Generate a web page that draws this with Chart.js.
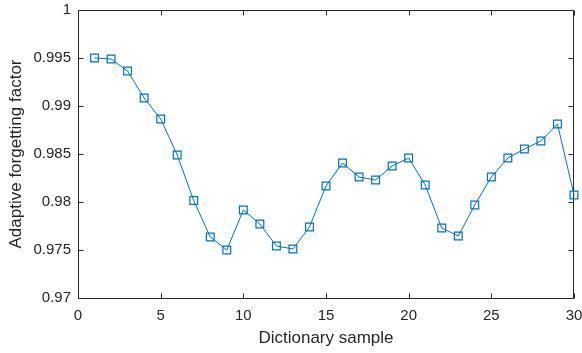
<!DOCTYPE html>
<html>
<head>
<meta charset="utf-8">
<script src="https://cdn.jsdelivr.net/npm/chart.js@4/dist/chart.umd.min.js"></script>
<style>
  html, body { margin: 0; padding: 0; background: #fff; }
  canvas { display: block; }
</style>
</head>
<body>
<canvas id="factorChart" width="582" height="353"></canvas>
<script>
const samples = [1, 2, 3, 4, 5, 6, 7, 8, 9, 10, 11, 12, 13, 14, 15,
  16, 17, 18, 19, 20, 21, 22, 23, 24, 25, 26, 27, 28, 29, 30];
const forgetting = [0.9950, 0.9949, 0.99365, 0.99083, 0.98865, 0.98490, 0.98015, 0.97635, 0.97500, 0.97917,
  0.97771, 0.97542, 0.97510, 0.97740, 0.98167, 0.98406, 0.98260, 0.98229, 0.98375, 0.98458,
  0.98177, 0.97729, 0.97646, 0.97969, 0.98260, 0.98458, 0.98552, 0.98635, 0.98813, 0.98073];
const xTicks = [0, 5, 10, 15, 20, 25, 30];
const yTicks = [0.97, 0.975, 0.98, 0.985, 0.99, 0.995, 1];

const AXIS = '#262626';
const LINE = '#0072BD';
const FONT = 'Liberation Sans, Arial, sans-serif';

// box around the plot with inward tick marks on all four sides
const boxPlugin = {
  id: 'boxTicks',
  beforeDatasetsDraw(chart) {
    const { ctx, chartArea: a, scales } = chart;
    const L = Math.round(a.left) + 0.5, R = Math.round(a.right) - 0.5;
    const T = Math.round(a.top) + 0.5, B = Math.round(a.bottom) + 0.5;
    const len = 5;
    ctx.save();
    ctx.strokeStyle = AXIS;
    ctx.lineWidth = 1;
    ctx.beginPath();
    ctx.rect(L, T, R - L, B - T);
    xTicks.forEach(v => {
      const x = Math.round(scales.x.getPixelForValue(v)) + 0.5;
      ctx.moveTo(x, B); ctx.lineTo(x, B - len);
      ctx.moveTo(x, T); ctx.lineTo(x, T + len);
    });
    yTicks.forEach(v => {
      const y = Math.round(scales.y.getPixelForValue(v)) + 0.5;
      ctx.moveTo(L, y); ctx.lineTo(L + len, y);
      ctx.moveTo(R, y); ctx.lineTo(R - len, y);
    });
    ctx.stroke();
    ctx.restore();
  }
};

new Chart(document.getElementById('factorChart'), {
  type: 'scatter',
  data: {
    datasets: [{
      data: samples.map((s, i) => ({ x: s, y: forgetting[i] })),
      showLine: true,
      borderColor: LINE,
      borderWidth: 1,
      backgroundColor: 'rgba(0,0,0,0)',
      pointStyle: 'rect',
      pointRadius: 5.5,
      pointBorderColor: LINE,
      pointBorderWidth: 1.2,
      pointBackgroundColor: 'rgba(0,0,0,0)',
      clip: false
    }]
  },
  options: {
    responsive: false,
    animation: false,
    events: [],
    layout: { padding: { top: 10, right: 8, left: 0, bottom: 0 } },
    plugins: { legend: { display: false }, tooltip: { enabled: false } },
    scales: {
      x: {
        type: 'linear',
        min: 0,
        max: 30,
        afterBuildTicks: s => { s.ticks = xTicks.map(v => ({ value: v })); },
        afterFit: s => { s.height = 55; s.paddingLeft = 0; s.paddingRight = 0; },
        grid: { display: false, drawTicks: false },
        border: { display: false },
        ticks: {
          color: AXIS,
          padding: 9,
          maxRotation: 0,
          font: { family: FONT, size: 15 },
          callback: v => String(v)
        },
        title: {
          display: true,
          text: 'Dictionary sample',
          color: AXIS,
          padding: { top: 0, bottom: 4 },
          font: { family: FONT, size: 17 }
        }
      },
      y: {
        type: 'linear',
        min: 0.97,
        max: 1,
        afterBuildTicks: s => { s.ticks = yTicks.map(v => ({ value: v })); },
        afterFit: s => { s.width = 78; s.paddingTop = 0; s.paddingBottom = 0; },
        grid: { display: false, drawTicks: false },
        border: { display: false },
        ticks: {
          color: AXIS,
          padding: 7,
          font: { family: FONT, size: 15 },
          callback: v => String(+v.toFixed(3))
        },
        title: {
          display: true,
          text: 'Adaptive forgetting factor',
          color: AXIS,
          padding: { top: 6, bottom: 0 },
          font: { family: FONT, size: 17 }
        }
      }
    }
  },
  plugins: [boxPlugin]
});
</script>
</body>
</html>
